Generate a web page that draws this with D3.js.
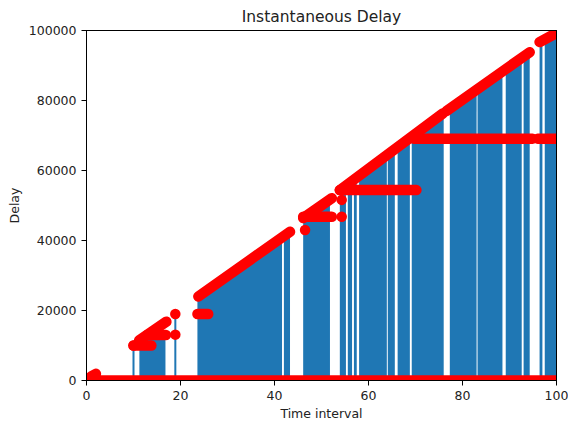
<!DOCTYPE html>
<html>
<head>
<meta charset="utf-8">
<script src="https://cdn.jsdelivr.net/npm/d3@7"></script>
<style>
  body { margin: 0; background: #fff; }
  text { font-family: "DejaVu Sans", sans-serif; }
</style>
</head>
<body>
<div id="chart"></div>
<script>
// tick labels
const xTicks = [0, 20, 40, 60, 80, 100];
const yTicks = [0, 20000, 40000, 60000, 80000, 100000];

// stems packed so tight they read as solid blue: [time from, time to, delay at start, delay at end]
const stemBlocks = [
  [11.25, 16.8, 11000, 13000],
  [23.6, 41.6, 23800, 40800],
  [42.0, 43.3, 41500, 42500],
  [46.1, 51.8, 45900, 51600],
  [53.9, 55.2, 54200, 55200],
  [55.6, 56.5, 55600, 56400],
  [56.9, 57.5, 56800, 57400],
  [58.0, 63.9, 57900, 63600],
  [64.1, 65.6, 63900, 65300],
  [66.2, 68.8, 65800, 68400],
  [69.2, 76.0, 68800, 75600],
  [77.3, 83.0, 76800, 82500],
  [83.2, 88.5, 82700, 88000],
  [89.2, 92.6, 88700, 92000],
  [93.0, 94.3, 92400, 93700],
  [96.4, 97.0, 96700, 97100],
  [97.5, 100, 97500, 99200]
];

// lone stems
const stemX = [10.0, 18.9];
const stemY = [10000, 19000];

// red markers that overlap into runs: [time from, delay from, time to, delay to]
const markerRuns = [
  [0, 0, 100, 0],
  [1.0, 1200, 2.0, 1900],
  [10.0, 10000, 13.8, 10000],
  [11.2, 11500, 17.0, 16800],
  [12.9, 13000, 16.9, 13000],
  [23.6, 19000, 25.9, 19000],
  [23.8, 24000, 43.3, 42500],
  [46.1, 46400, 52.2, 52100],
  [46.1, 46800, 52.2, 46800],
  [53.9, 54400, 75.8, 76300],
  [53.9, 54400, 70.2, 54400],
  [69.6, 69100, 94.9, 69100],
  [76.6, 77000, 94.3, 93800],
  [96.0, 69100, 100, 69100],
  [96.4, 96700, 100, 99300]
];

// single markers
const markerX = [10.0, 18.9, 18.9, 46.5, 54.3, 54.3];
const markerY = [10000, 19000, 13100, 43000, 46800, 51600];

//set sizes
const W = 568;
const H = 423;
const padLeft = 86.5;
const padTop = 30.5;
const w = 470;
const h = 350;

const svg = d3.select('#chart')
  .append('svg')
  .attr('width', W)
  .attr('height', H);

const xScale = d3.scaleLinear().domain([0, 100]).range([0, w]);
const yScale = d3.scaleLinear().domain([0, 100000]).range([h, 0]);

const g = svg.append('g').attr('transform', `translate(${padLeft},${padTop})`);

svg.append('defs').append('clipPath')
  .attr('id', 'plotclip')
  .append('rect')
  .attr('x', 0).attr('y', 0).attr('width', w).attr('height', h);

const plot = g.append('g').attr('clip-path', 'url(#plotclip)');

//blue stem blocks
const area = d3.area()
  .x(d => xScale(d[0]))
  .y0(yScale(0))
  .y1(d => yScale(d[1]));

plot.selectAll('path.block')
  .data(stemBlocks)
  .enter()
  .append('path')
  .attr('class', 'block')
  .attr('d', d => area([[d[0], d[2]], [d[1], d[3]]]))
  .style('fill', '#1f77b4');

plot.selectAll('line.stem')
  .data(stemX)
  .enter()
  .append('line')
  .attr('class', 'stem')
  .attr('x1', d => xScale(d))
  .attr('x2', d => xScale(d))
  .attr('y1', yScale(0))
  .attr('y2', (d, i) => yScale(stemY[i]))
  .style('stroke', '#1f77b4')
  .style('stroke-width', 2);

//red markers
const line = d3.line()
  .x(d => xScale(d[0]))
  .y(d => yScale(d[1]));

plot.selectAll('path.run')
  .data(markerRuns)
  .enter()
  .append('path')
  .attr('class', 'run')
  .attr('d', d => line([[d[0], d[1]], [d[2], d[3]]]))
  .style('fill', 'none')
  .style('stroke', 'red')
  .style('stroke-width', 10.5)
  .style('stroke-linecap', 'round');

plot.selectAll('circle')
  .data(markerX)
  .enter()
  .append('circle')
  .attr('cx', d => xScale(d))
  .attr('cy', (d, i) => yScale(markerY[i]))
  .attr('r', 5.25)
  .style('fill', 'red');

//axes
const xAxis = d3.axisBottom(xScale).tickValues(xTicks).tickFormat(d3.format('d')).tickSize(5).tickPadding(6).offset(0);
const yAxis = d3.axisLeft(yScale).tickValues(yTicks).tickFormat(d3.format('d')).tickSize(5).tickPadding(5).offset(0);

g.append('g')
  .attr('transform', `translate(0,${h})`)
  .call(xAxis);

g.append('g')
  .call(yAxis);

g.selectAll('.tick text')
  .style('font-family', '"DejaVu Sans", sans-serif')
  .style('font-size', '12.5px')
  .style('fill', '#222');
g.selectAll('.tick line').style('stroke', '#000');
g.selectAll('.domain').style('stroke', 'none');

//spines
g.append('rect')
  .attr('x', 0).attr('y', 0).attr('width', w).attr('height', h)
  .style('fill', 'none')
  .style('stroke', '#000')
  .style('stroke-width', 1);

//title and labels
svg.append('text')
  .attr('x', padLeft + w / 2)
  .attr('y', 22)
  .attr('text-anchor', 'middle')
  .style('font-size', '15.5px')
  .style('fill', '#222')
  .text('Instantaneous Delay');

svg.append('text')
  .attr('x', padLeft + w / 2)
  .attr('y', 418)
  .attr('text-anchor', 'middle')
  .style('font-size', '12.5px')
  .style('fill', '#222')
  .text('Time interval');

svg.append('text')
  .attr('transform', `translate(19,${padTop + h / 2}) rotate(-90)`)
  .attr('text-anchor', 'middle')
  .style('font-size', '12.5px')
  .style('fill', '#222')
  .text('Delay');
</script>
</body>
</html>
